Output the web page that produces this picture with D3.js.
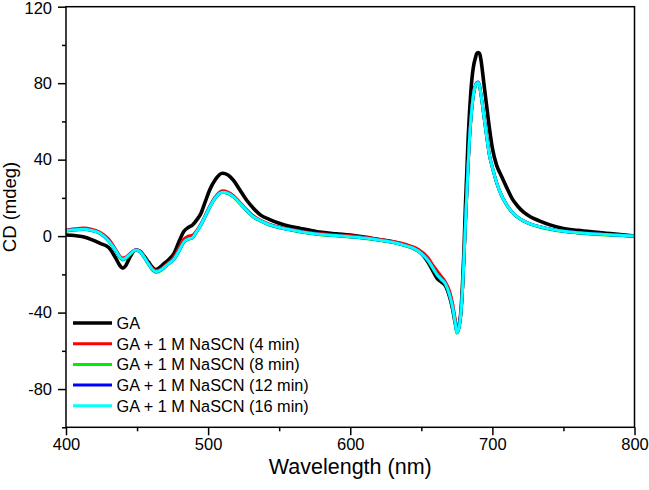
<!DOCTYPE html>
<html><head><meta charset="utf-8">
<script src="https://cdn.jsdelivr.net/npm/d3@7"></script>
<style>body{margin:0;background:#fff}svg{display:block}text{font-family:"Liberation Sans",Arial,sans-serif;fill:#000}</style>
</head><body><svg id="c" width="649" height="490"></svg>
<script>
const wavelengths=[400,406,412,418,424,430,435,438,440,442,445,449,452,455,458,461,463,465,468,472,476,480,483,486,489,492,495,498,501,505,510,514,518,522,527,532,537,543,550,558,565,572,580,590,600,610,620,630,640,645,650,655,658,661,664,667,670,672,674,675,676,678,679,680,681,682,683,684,685,686,687,688,689,690,691,692,694,696,698,700,703,706,710,714,718,722,727,733,740,750,760,770,780,790,800];
const seriesNames=["GA","GA + 1 M NaSCN (4 min)","GA + 1 M NaSCN (8 min)","GA + 1 M NaSCN (12 min)","GA + 1 M NaSCN (16 min)"];
const seriesColors=["#000000","#ff0000","#00ee00","#0000ff","#00ffff"];
const gaValues=[0.6,0.3,-0.3,-1.8,-3.8,-6,-11.5,-15.5,-16.8,-15.5,-11,-7.3,-7.8,-10.5,-13.5,-16.5,-17.5,-17,-15,-12.5,-9,-2,2.5,4.5,5.8,8.5,12,18,24,29.5,32.9,32,29,24.5,18.9,14.5,11,8.8,6.7,5,4,3,2,1.2,0.5,-0.5,-1.8,-3,-5,-6.5,-9,-14,-18,-22,-24,-26,-32,-38,-46,-49,-48,-38,-25,-8,15,33,52,66,77,85,90,93,95.5,96,95.5,92,80,68,56,46,37,32,25.5,19.5,15.5,12.5,10,8,6,4,3,2.2,1.5,0.8,0];
const min4Values=[3.2,3.8,4.2,3.6,2,-1.5,-7,-10.5,-11.5,-11,-9.2,-7.1,-7.8,-10.8,-14.2,-17.2,-18,-17.8,-16.5,-14,-11,-5.5,-1.5,0,0.5,3,6.5,11,15.5,20.5,23.7,23,21,18,14,10.5,8.3,6.3,4.8,3.6,2.6,1.8,1.2,0.6,0.2,-0.6,-1.6,-2.8,-4.5,-5.8,-8,-11.5,-15,-18,-21,-24,-29,-35,-44,-48,-48,-39,-28,-12,5,22,38,52,62,70,75.5,78.5,80,80.3,78.5,74,63,52,42,36,28,22,16.5,12.5,9.8,8,6.3,5,3.8,2.6,1.8,1.2,0.8,0.4,0];
const min8Values=[2.6,3.2,3.5,2.9,1.3,-2.7,-7.8,-11.3,-12.5,-11.8,-9.7,-7.4,-8.2,-11.3,-14.8,-17.9,-19,-18.7,-17.3,-14.7,-12.2,-7.2,-3.2,-1.7,-1,2.3,5.8,10.3,14.8,19.8,22.8,22.3,20.3,17.3,13.3,9.8,7.8,5.8,4.3,3.1,2.1,1.3,0.6,0.1,-0.5,-1.2,-2.2,-3.4,-5.4,-6.7,-9.2,-13.2,-16.7,-20.2,-22.7,-25.2,-31.2,-37.2,-46.2,-50.7,-49.7,-39.2,-28.2,-12.2,4.8,21.8,37.8,51.8,61.8,69.8,75.3,78.3,79.8,80.1,78.3,73.8,62.8,51.8,41.8,35.8,27.8,21.8,16.3,12.3,9.6,7.8,6.1,4.8,3.6,2.4,1.6,1,0.6,0.2,0];
const min12Values=[2.8,3.3,3.6,3,1.5,-2.5,-7.5,-11,-12.2,-11.5,-9.5,-7.3,-8,-11,-14.5,-17.5,-18.6,-18.3,-17,-14.5,-12,-7,-3,-1.5,-0.8,2.5,6,10.5,15,20,23,22.5,20.5,17.5,13.5,10,8,6,4.5,3.3,2.3,1.5,0.8,0.3,-0.3,-1,-2,-3.2,-5.2,-6.5,-9,-13,-16.5,-20,-22.5,-25,-31,-37,-46,-50.5,-49.5,-39,-28,-12,5,22,38,52,62,70,75.5,78.7,80.3,80.6,78.7,74,63,52,42,36,28,22,16.5,12.5,9.8,8,6.3,5,3.8,2.6,1.8,1.2,0.8,0.4,0];
const min16Values=[2.8,3.3,3.6,3,1.5,-2.5,-7.5,-11,-12.2,-11.5,-9.5,-7.3,-8,-11,-14.5,-17.5,-18.6,-18.3,-17,-14.5,-12,-7,-3,-1.5,-0.8,2.5,6,10.5,15,20,23,22.5,20.5,17.5,13.5,10,8,6,4.5,3.3,2.3,1.5,0.8,0.3,-0.3,-1,-2,-3.2,-5.2,-6.5,-9,-13,-16.5,-20,-22.5,-25,-31,-37,-46,-50.5,-49.5,-39,-28,-12,5,22,38,52,62,70,75.5,78.5,80,80.3,78.5,74,63,52,42,36,28,22,16.5,12.5,9.8,8,6.3,5,3.8,2.6,1.8,1.2,0.8,0.4,0];
const seriesValues=[gaValues,min4Values,min8Values,min12Values,min16Values];
const xTicks=[400,500,600,700,800], xMinor=[450,550,650,750];
const yTicks=[-80,-40,0,40,80,120], yMinor=[-100,-60,-20,20,60,100];

const svg=d3.select("#c");
const L=66,R=634.5,T=6.7,B=427.3;
const x=d3.scaleLinear().domain([400,800]).range([L,R]);
const y=d3.scaleLinear().domain([-100,120]).range([B,T]);

const line=d3.line().x((d,i)=>x(wavelengths[i])).y(d=>y(d)).curve(d3.curveMonotoneX);
const widths=[3.6,3,3,3,3];
seriesValues.forEach((vals,k)=>{
  svg.append("path").attr("d",line(vals)).attr("fill","none")
    .attr("stroke",seriesColors[k]).attr("stroke-width",widths[k]).attr("stroke-linejoin","round");
});

// frame
svg.append("rect").attr("x",L).attr("y",T).attr("width",R-L).attr("height",B-T)
  .attr("fill","none").attr("stroke","#000").attr("stroke-width",1.5);

// axes
const fmt=d=>String(d);
const gx=svg.append("g").attr("transform",`translate(0,${B})`)
  .call(d3.axisBottom(x).tickValues(xTicks).tickSize(8).tickPadding(3).tickFormat(fmt));
const gxm=svg.append("g").attr("transform",`translate(0,${B})`)
  .call(d3.axisBottom(x).tickValues(xMinor).tickSize(4).tickFormat(""));
const gy=svg.append("g").attr("transform",`translate(${L},0)`)
  .call(d3.axisLeft(y).tickValues(yTicks).tickSize(8).tickPadding(6).tickFormat(fmt));
const gym=svg.append("g").attr("transform",`translate(${L},0)`)
  .call(d3.axisLeft(y).tickValues(yMinor).tickSize(4).tickFormat(""));
[gx,gxm,gy,gym].forEach(g=>{
  g.select(".domain").remove();
  g.selectAll("line").attr("stroke","#000").attr("stroke-width",1.5);
  g.selectAll("text").attr("font-size",16.5).attr("font-family","Liberation Sans, Arial, sans-serif").attr("fill","#000");
});
gy.selectAll(".tick").filter(d=>d===120).select("text").attr("dy","0.42em");

svg.append("text").attr("x",(L+R)/2).attr("y",474).attr("text-anchor","middle").attr("font-size",21.5).text("Wavelength (nm)");
svg.append("text").attr("transform",`translate(16,207) rotate(-90)`).attr("text-anchor","middle").attr("font-size",18.5).text("CD (mdeg)");

// legend
const lg=svg.append("g");
seriesNames.forEach((n,k)=>{
  const yy=323+k*20.7;
  lg.append("line").attr("x1",73).attr("x2",112).attr("y1",yy).attr("y2",yy)
    .attr("stroke",seriesColors[k]).attr("stroke-width",widths[k]);
  lg.append("text").attr("x",116.5).attr("y",yy+6).attr("font-size",16.3).text(n);
});
</script></body></html>
